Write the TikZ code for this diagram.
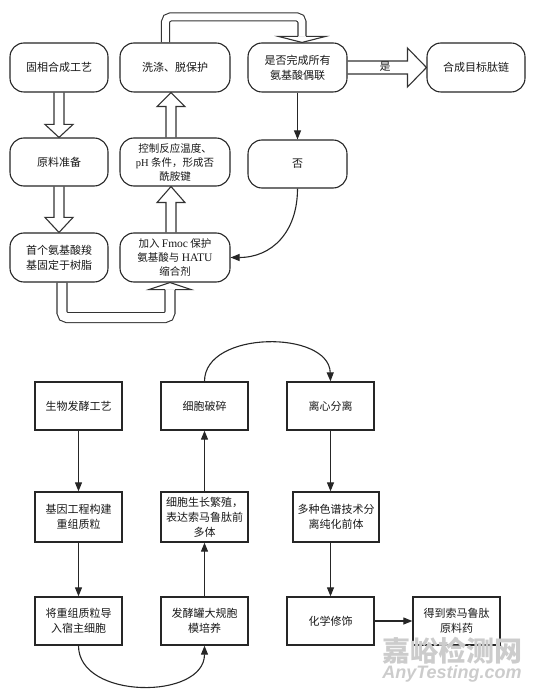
\documentclass[tikz,border=0pt]{standalone}
\usepackage{fontspec}
\setmainfont{Liberation Serif}
\newfontfamily\cjk{Noto Sans CJK SC}
\newfontfamily\wmlatin{Liberation Sans}
\usetikzlibrary{calc,arrows.meta,backgrounds}
\newcommand\vblk[4]{%
  \coordinate (vs) at ($(#1)+(#3,0)$);
  \coordinate (vt) at (vs |- #2);
  \draw[blk] ($(vs)+(-5,0)$) -- ($(vt)+(-5,#4)$) -- ($(vt)+(-14,#4)$) -- (vt)
    -- ($(vt)+(14,#4)$) -- ($(vt)+(5,#4)$) -- ($(vs)+(5,0)$);
}
\begin{document}
\begin{tikzpicture}[x=1pt,y=-1pt,
  rbox/.style={draw=black!85, line width=1.1pt, rounded corners=14pt, fill=white,
    align=center, inner sep=0pt, font=\cjk\fontsize{11}{15}\selectfont, text=black!90},
  sbox/.style={draw=black!85, line width=1.3pt, fill=white, align=center,
    inner sep=0pt, font=\cjk\fontsize{11}{15}\selectfont, text=black!90},
  blk/.style={draw=black!80, line width=1.1pt, fill=white, line join=miter},
  pipe/.style={draw=black!80, line width=1.1pt, double=white, rounded corners=5pt},
  arr/.style={draw=black!85, line width=1.1pt, -{Triangle[length=9pt,width=7pt]}},
]
\useasboundingbox (0,0) rectangle (534,692);

% ---------- top: solid-phase synthesis ----------
\node[rbox, minimum width=98pt, minimum height=49pt] (A) at (59,67.5) {固相合成工艺};
\node[rbox, minimum width=110pt, minimum height=49pt] (B) at (175,67.5) {洗涤、脱保护};
\node[rbox, minimum width=99pt, minimum height=49pt] (C) at (297.5,67.5) {是否完成所有\\氨基酸偶联};
\node[rbox, minimum width=98pt, minimum height=49pt] (D) at (476,67.5) {合成目标肽链};
\node[rbox, minimum width=98pt, minimum height=48pt] (E) at (59,162) {原料准备};
\node[rbox, minimum width=110pt, minimum height=48pt, font=\cjk\fontsize{10.5}{14}\selectfont] (F) at (175,162)
  {控制反应温度、\\{\rmfamily pH} 条件，形成否\\酰胺键};
\node[rbox, minimum width=99pt, minimum height=48pt] (G) at (297.5,164) {否};
\node[rbox, minimum width=98pt, minimum height=49pt] (H) at (59,257.5) {首个氨基酸羧\\基固定于树脂};
\node[rbox, minimum width=110pt, minimum height=49pt, font=\cjk\fontsize{10.5}{14}\selectfont] (I) at (175,257.5)
  {加入 {\rmfamily\fontsize{11.5}{14}\selectfont Fmoc} 保护\\氨基酸与 {\rmfamily\fontsize{11.5}{14}\selectfont HATU}\\缩合剂};

\begin{scope}[on background layer]
  \vblk{A.south}{E.north}{0}{-13}
  \vblk{E.south}{H.north}{0}{-15}
  \vblk{I.north}{F.south}{-4}{16}
  \vblk{F.north}{B.south}{-4}{14}
  % pipe H -> I
  \draw[pipe, double distance=8.9pt] ($(H.south)+(3,0)$) -- ($(H.south)+(3,35)$)
    -- ($(I.south)+(-5,35)$) -- ($(I.south)+(-5,7)$);
  \draw[blk] ($(I.south)+(-10,7)$) -- ($(I.south)+(-26,7)$) -- ($(I.south)+(-5,0)$)
    -- ($(I.south)+(16,7)$) -- ($(I.south)+(0,7)$);
  % pipe B -> C
  \draw[pipe, double distance=6.9pt] ($(B.north)+(-9.5,0)$) -- ($(B.north)+(-9.5,-25.5)$)
    -- ($(C.north)+(4.5,-25.5)$) -- ($(C.north)+(4.5,-6)$);
  \draw[blk] ($(C.north)+(0.5,-6)$) -- ($(C.north)+(-19,-6)$) -- ($(C.north)+(4.5,0)$)
    -- ($(C.north)+(28,-6)$) -- ($(C.north)+(8.5,-6)$);
  % block C -> D
  \draw[blk] ($(C.east)+(0,-6.5)$) -- ($(D.west)+(-19,-6.5)$) -- ($(D.west)+(-19,-19.5)$)
    -- (D.west) -- ($(D.west)+(-19,19.5)$) -- ($(D.west)+(-19,6.5)$) -- ($(C.east)+(0,6.5)$);
\end{scope}
\node[font=\cjk\fontsize{11}{11}\selectfont, text=black!90, inner sep=0pt] (yes) at (385,66.5) {是};

\draw[arr] (C.south) -- (G.north);
\draw[arr] (G.south) .. controls (297.5,232) and (272,257.5) .. (I.east);

% ---------- bottom: fermentation ----------
\node[sbox, minimum width=87pt, minimum height=48pt] (P) at (78.5,406) {生物发酵工艺};
\node[sbox, minimum width=87pt, minimum height=48pt] (Q) at (204.5,406) {细胞破碎};
\node[sbox, minimum width=87pt, minimum height=48pt] (R) at (330.5,406) {离心分离};
\node[sbox, minimum width=87pt, minimum height=50pt] (S) at (78.5,517) {基因工程构建\\重组质粒};
\node[sbox, minimum width=87pt, minimum height=50pt] (T) at (204.5,517) {细胞生长繁殖，\\表达索马鲁肽前\\多体};
\node[sbox, minimum width=86pt, minimum height=50pt] (U) at (336,517) {多种色谱技术分\\离纯化前体};
\node[sbox, minimum width=87pt, minimum height=48pt] (V) at (78.5,621) {将重组质粒导\\入宿主细胞};
\node[sbox, minimum width=87pt, minimum height=48pt] (W) at (204.5,621) {发酵罐大规胞\\模培养};
\node[sbox, minimum width=87pt, minimum height=48pt] (X) at (330.5,621) {化学修饰};
\node[sbox, minimum width=87pt, minimum height=48pt] (Y) at (456.5,621) {得到索马鲁肽\\原料药};

\draw[arr] (P.south) -- (S.north);
\draw[arr] (S.south) -- (V.north);
\draw[arr] (V.south) .. controls (78.5,700) and (204.5,700) .. (W.south);
\draw[arr] (W.north) -- (T.south);
\draw[arr] (T.north) -- (Q.south);
\draw[arr] (Q.north) .. controls (204.5,330) and (329,330) .. (R.north);
\draw[arr] (R.south) -- (R.south |- U.north);
\draw[arr] (U.south -| X.north) -- (X.north);
\draw[arr] (X.east) -- (Y.west);

% watermark
\node[text=black!20, font=\cjk\bfseries\fontsize{28}{28}\selectfont, inner sep=0pt] (wm1) at (452,651) {嘉峪检测网};
\node[text=black!20, font=\wmlatin\bfseries\itshape\fontsize{18}{18}\selectfont, inner sep=0pt] (wm2) at (452,674) {AnyTesting.com};
\end{tikzpicture}
\end{document}
